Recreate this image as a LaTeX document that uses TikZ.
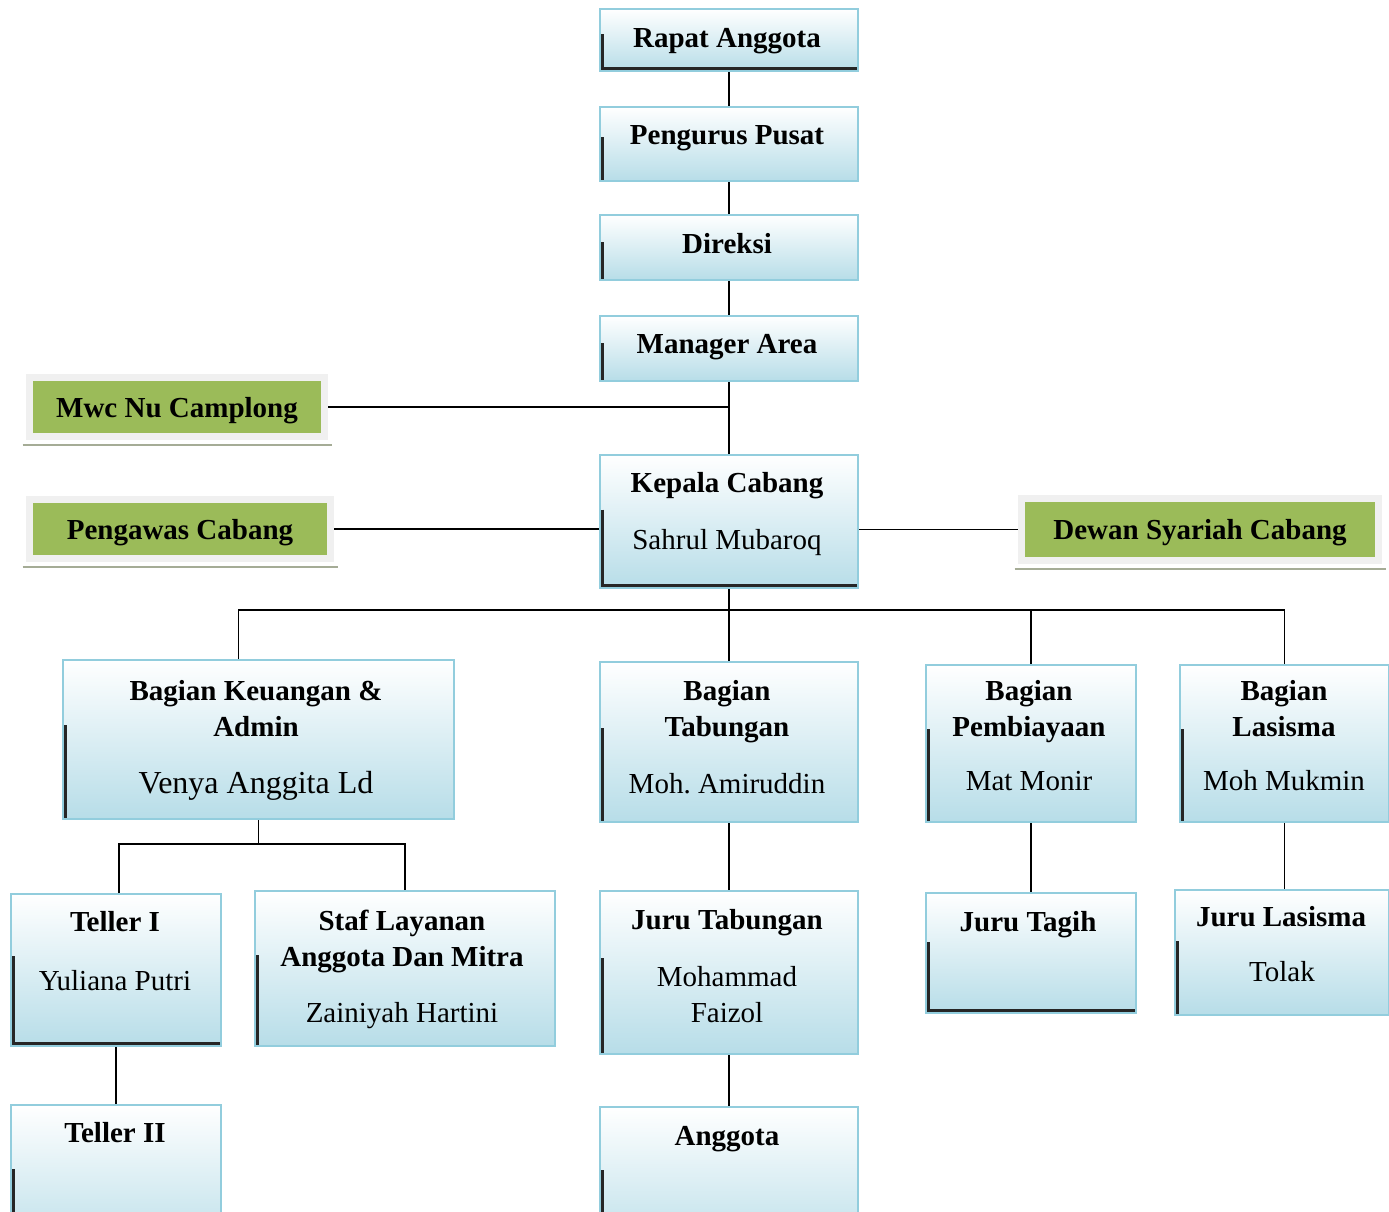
\documentclass[tikz,border=0pt]{standalone}
\usepackage{fontspec}
\setmainfont{Liberation Serif}
\usetikzlibrary{calc}
\definecolor{edge}{RGB}{146, 205, 221}
\definecolor{pale}{RGB}{183, 221, 232}
\definecolor{dark}{RGB}{38, 38, 38}
\definecolor{leaf}{RGB}{155, 187, 89}
\definecolor{frame}{RGB}{240, 240, 240}
\definecolor{foot}{RGB}{165, 172, 150}

\tikzset{
  box/.style={draw=edge, line width=2pt, top color=white, bottom color=pale,
    path picture={\draw[dark, line width=8pt] (path picture bounding box.south west)
      -- ($(path picture bounding box.south west)!0.59!(path picture bounding box.north west)$);}},
  boxfoot/.style={box,
    path picture={\draw[dark, line width=8pt]
      ($(path picture bounding box.south west)!0.59!(path picture bounding box.north west)$)
      -- (path picture bounding box.south west) -- (path picture bounding box.south east);}},
  leafbox/.style={fill=leaf, draw=frame, line width=7pt, text depth=0pt,
    font=\bfseries\fontsize{29}{36}\selectfont,
    append after command={([shift={(-3.5pt,-4.5pt)}]\tikzlastnode.south west)
      edge[draw=foot, line width=2pt] ([shift={(3.5pt,-4.5pt)}]\tikzlastnode.south east)}},
  ttl/.style={font=\bfseries\fontsize{29}{36}\selectfont, align=center, anchor=base, inner sep=0pt},
  who/.style={font=\fontsize{29}{36}\selectfont, align=center, anchor=base, inner sep=0pt},
  link/.style={line width=1.5pt}
}

\begin{document}
\begin{tikzpicture}[x=1pt, y=-1pt]

  \useasboundingbox (0,0) rectangle (1389,1211);

  % top chain
  \node[boxfoot, minimum width=258, minimum height=62] (rapat) at (729,40) {};
  \node[box, minimum width=258, minimum height=74] (pengurus) at (729,144) {};
  \node[box, minimum width=258, minimum height=65] (direksi) at (729,247.5) {};
  \node[box, minimum width=258, minimum height=65] (manager) at (729,348.5) {};
  \node[boxfoot, minimum width=258, minimum height=133] (kepala) at (729,521.5) {};

  % side boxes
  \node[leafbox, minimum width=295, minimum height=59] (mwc) at (177,407) {Mwc Nu Camplong};
  \node[leafbox, minimum width=301, minimum height=59] (pengawas) at (180,529) {Pengawas Cabang};
  \node[leafbox, minimum width=357, minimum height=62] (dewan) at (1200,529.5) {Dewan Syariah Cabang};

  % departments
  \node[box, minimum width=391, minimum height=159] (keu) at (258.5,739.5) {};
  \node[box, minimum width=258, minimum height=160] (tab) at (729,742) {};
  \node[box, minimum width=210, minimum height=157] (biaya) at (1031,743.5) {};
  \node[box, minimum width=209, minimum height=157] (lasisma) at (1284.5,743.5) {};

  % staff
  \node[boxfoot, minimum width=210, minimum height=152] (teller1) at (116,970) {};
  \node[box, minimum width=300, minimum height=155] (staf) at (405,968.5) {};
  \node[box, minimum width=258, minimum height=163] (jtab) at (729,972.5) {};
  \node[boxfoot, minimum width=210, minimum height=120] (jtagih) at (1031,953) {};
  \node[box, minimum width=214, minimum height=125] (jlas) at (1282,952.5) {};
  \node[box, minimum width=210, minimum height=155] (teller2) at (116,1182.5) {};
  \node[box, minimum width=258, minimum height=153] (anggota) at (729,1183.5) {};

  % texts (base of a two-line text is its last line)
  \node[ttl] (rapat-t) at (727,47) {Rapat Anggota};
  \node[ttl] (pengurus-t) at (727,144) {Pengurus Pusat};
  \node[ttl] (direksi-t) at (727,253) {Direksi};
  \node[ttl] (manager-t) at (727,353) {Manager Area};
  \node[ttl] (kepala-t) at (727,492) {Kepala Cabang};
  \node[who] (kepala-n) at (727,549) {Sahrul Mubaroq};
  \node[ttl] (keu-t) at (256,736) {Bagian Keuangan \&\\Admin};
  \node[who, font=\fontsize{32}{38}\selectfont] (keu-n) at (256,793) {Venya Anggita Ld};
  \node[ttl] (tab-t) at (727,736) {Bagian\\Tabungan};
  \node[who] (tab-n) at (727,793) {Moh.\ Amiruddin};
  \node[ttl] (biaya-t) at (1029,736) {Bagian\\Pembiayaan};
  \node[who] (biaya-n) at (1029,790) {Mat Monir};
  \node[ttl] (lasisma-t) at (1284,736) {Bagian\\Lasisma};
  \node[who] (lasisma-n) at (1284,790) {Moh Mukmin};
  \node[ttl] (teller1-t) at (115,931) {Teller I};
  \node[who] (teller1-n) at (115,990) {Yuliana Putri};
  \node[ttl] (staf-t) at (402,966) {Staf Layanan\\Anggota Dan Mitra};
  \node[who] (staf-n) at (402,1022) {Zainiyah Hartini};
  \node[ttl] (jtab-t) at (727,929) {Juru Tabungan};
  \node[who] (jtab-n) at (727,1022) {Mohammad\\Faizol};
  \node[ttl] (jtagih-t) at (1028,931) {Juru Tagih};
  \node[ttl] (jlas-t) at (1281,926) {Juru Lasisma};
  \node[who] (jlas-n) at (1282,981) {Tolak};
  \node[ttl] (teller2-t) at (115,1142) {Teller II};
  \node[ttl] (anggota-t) at (727,1145) {Anggota};

  % connectors
  \coordinate (bus) at (729,610);
  \coordinate (keubus) at (258.5,844);
  \draw[link] (rapat) -- (pengurus);
  \draw[link] (pengurus) -- (direksi);
  \draw[link] (direksi) -- (manager);
  \draw[line width=2.2pt] (manager) -- (kepala);
  \draw[link] (mwc.east) -- (mwc.east -| kepala.north);
  \draw[link] (pengawas.east) -- (pengawas.east -| kepala.west);
  \draw[link] (kepala.east |- dewan.west) -- (dewan.west);
  \draw[link] (kepala.south) -- (tab.north);
  \draw[link] ([xshift=-20pt]keu.north) |- (bus) -| (lasisma.north);
  \draw[link] (biaya.north) -- (biaya.north |- bus);
  \draw[link] (keu.south) -- (keubus);
  \draw[link] ([xshift=3pt]teller1.north) |- (keubus) -| (staf.north);
  \draw[link] (tab) -- (jtab);
  \draw[link] (biaya) -- (jtagih);
  \draw[link] (lasisma.south) -- (lasisma.south |- jlas.north);
  \draw[link] (teller1) -- (teller2);
  \draw[link] (jtab) -- (anggota);

\end{tikzpicture}
\end{document}
